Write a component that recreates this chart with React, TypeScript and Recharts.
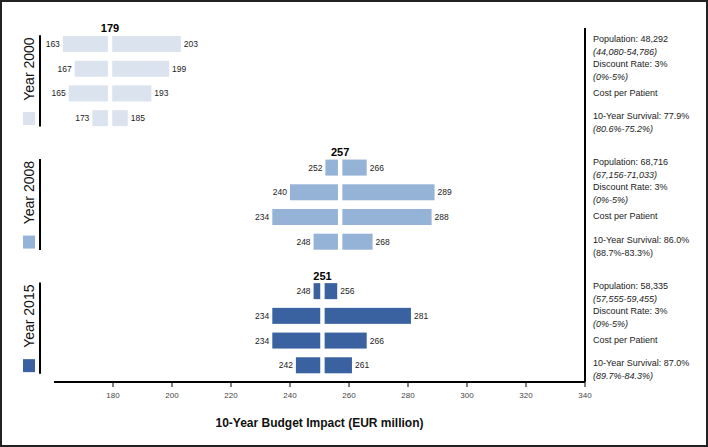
import React from "react";
import {
  BarChart,
  Bar,
  XAxis,
  YAxis,
  Cell,
  LabelList,
  ReferenceDot,
} from "recharts";

const years = ["2000", "2008", "2015"];
const baseCase = [179, 257, 251];
const colors = ["#dbe3ef", "#95b3d7", "#3a62a0"];

const low2000 = [163, 167, 165, 173];
const high2000 = [203, 199, 193, 185];
const low2008 = [252, 240, 234, 248];
const high2008 = [266, 289, 288, 268];
const low2015 = [248, 234, 234, 242];
const high2015 = [256, 281, 266, 261];

const params2000 = ["Population: 48,292", "Discount Rate: 3%", "Cost per Patient", "10-Year Survival: 77.9%"];
const ranges2000 = ["(44,080-54,786)", "(0%-5%)", "", "(80.6%-75.2%)"];
const params2008 = ["Population: 68,716", "Discount Rate: 3%", "Cost per Patient", "10-Year Survival: 86.0%"];
const ranges2008 = ["(67,156-71,033)", "(0%-5%)", "", "(88.7%-83.3%)"];
const params2015 = ["Population: 58,335", "Discount Rate: 3%", "Cost per Patient", "10-Year Survival: 87.0%"];
const ranges2015 = ["(57,555-59,455)", "(0%-5%)", "", "(89.7%-84.3%)"];
const uprightRanges = ["(88.7%-83.3%)"];

const xTicks = [180, 200, 220, 240, 260, 280, 300, 320, 340];

const lows = [low2000, low2008, low2015];
const highs = [high2000, high2008, high2015];
const params = [params2000, params2008, params2015];
const ranges = [ranges2000, ranges2008, ranges2015];

type Row = {
  id: string;
  panel: number;
  pos: number;
  left?: [number, number];
  right?: [number, number];
  low?: number;
  high?: number;
  name?: string;
  range?: string;
};

const rows: Row[] = [];
years.forEach((y, p) => {
  if (p > 0) rows.push({ id: "gap" + p, panel: p, pos: -1 });
  lows[p].forEach((lo, i) => {
    const hi = highs[p][i];
    rows.push({
      id: y + "-" + i,
      panel: p,
      pos: i,
      left: [lo, baseCase[p]],
      right: [baseCase[p], hi],
      low: lo,
      high: hi,
      name: params[p][i],
      range: ranges[p][i],
    });
  });
});

const W = 708;
const H = 447;
const TOP = 28;
const XAXIS_H = 65;
const PAD = 4;
const ROW = (H - TOP - XAXIS_H - 2 * PAD) / rows.length;
const FONT = "'Liberation Sans', Arial, sans-serif";
const GAP = 2.2;
const LINE_SHIFT = [-5.5, -5.5, -1, -2.5];

const LeftTick = (props: any) => {
  const row = rows.find((r) => r.id === props.payload?.value);
  if (!row || row.pos < 0) return null;
  const y = props.y;
  return (
    <g>
      {row.pos === 0 && (
        <line x1={40} x2={40} y1={y - 9} y2={y + 3 * ROW + 8} stroke="#000" strokeWidth={2} />
      )}
      {row.pos === 1 && (
        <text
          x={29.5}
          y={y}
          transform={`rotate(-90, 29.5, ${y})`}
          textAnchor="middle"
          dominantBaseline="central"
          fontSize={14}
          fontFamily={FONT}
          fill="#111"
        >
          {"Year " + years[row.panel]}
        </text>
      )}
      {row.pos === 3 && (
        <rect x={23} y={y - 6.5} width={12} height={13} fill={colors[row.panel]} />
      )}
    </g>
  );
};

const RightTick = (props: any) => {
  const row = rows.find((r) => r.id === props.payload?.value);
  if (!row || row.pos < 0) return null;
  const y = props.y;
  const x = 593;
  if (!row.range) {
    return (
      <text x={x} y={y + LINE_SHIFT[row.pos] + 3} fontSize={9} fontFamily={FONT} fill="#222">
        {row.name}
      </text>
    );
  }
  const s = LINE_SHIFT[row.pos];
  return (
    <g>
      <text x={x} y={y + s + 3} fontSize={9} fontFamily={FONT} fill="#222">
        {row.name}
      </text>
      <text
        x={x}
        y={y + s + 16}
        fontSize={9}
        fontFamily={FONT}
        fill="#222"
        fontStyle={uprightRanges.includes(row.range) ? "normal" : "italic"}
      >
        {row.range}
      </text>
    </g>
  );
};

const LeftHalf = (props: any) => {
  const { x, y, width, height, fill } = props;
  if (![x, y, width, height].every(Number.isFinite) || width <= 0) return null;
  return <rect x={x} y={y} width={Math.max(0, width - GAP)} height={height} fill={fill} />;
};

const RightHalf = (props: any) => {
  const { x, y, width, height, fill } = props;
  if (![x, y, width, height].every(Number.isFinite) || width <= 0) return null;
  return <rect x={x + GAP} y={y} width={Math.max(0, width - GAP)} height={height} fill={fill} />;
};

export default function App() {
  return (
    <div style={{ position: "absolute", left: 0, top: 0, width: W, height: H, background: "#fff", fontFamily: FONT }}>
      <BarChart
        width={W}
        height={H}
        data={rows}
        layout="vertical"
        margin={{ top: TOP, right: 0, bottom: 0, left: 0 }}
        barSize={16}
        barGap={-16}
      >
        <XAxis
          type="number"
          domain={[160, 340]}
          ticks={xTicks}
          allowDataOverflow
          height={XAXIS_H}
          tickSize={5}
          tickMargin={5}
          tick={{ fontSize: 8, fill: "#444", fontFamily: FONT }}
          tickLine={{ stroke: "#000" }}
          axisLine={{ stroke: "#000", strokeWidth: 2 }}
          label={{
            value: "10-Year Budget Impact (EUR million)",
            position: "insideBottom",
            offset: 20,
            fontSize: 12,
            fontWeight: "bold",
            fill: "#111",
            fontFamily: FONT,
          }}
        />
        <YAxis
          yAxisId="left"
          type="category"
          dataKey="id"
          width={54}
          padding={{ top: PAD, bottom: PAD }}
          axisLine={false}
          tickLine={false}
          interval={0}
          tick={<LeftTick />}
        />
        <YAxis
          yAxisId="right"
          orientation="right"
          type="category"
          dataKey="id"
          width={123}
          padding={{ top: PAD, bottom: PAD }}
          axisLine={{ stroke: "#000", strokeWidth: 2 }}
          tickLine={false}
          interval={0}
          tick={<RightTick />}
        />
        <Bar yAxisId="left" dataKey="left" isAnimationActive={false} shape={<LeftHalf />}>
          {rows.map((r) => (
            <Cell key={r.id} fill={colors[r.panel]} />
          ))}
          <LabelList dataKey="low" position="left" offset={3} fontSize={8.5} fill="#222" fontFamily={FONT} />
        </Bar>
        <Bar yAxisId="left" dataKey="right" isAnimationActive={false} shape={<RightHalf />}>
          {rows.map((r) => (
            <Cell key={r.id} fill={colors[r.panel]} />
          ))}
          <LabelList dataKey="high" position="right" offset={3} fontSize={8.5} fill="#222" fontFamily={FONT} />
        </Bar>
        {years.map((y, p) => (
          <ReferenceDot
            key={y}
            yAxisId="left"
            x={baseCase[p]}
            y={y + "-0"}
            r={0}
            fill="none"
            stroke="none"
            label={{
              value: String(baseCase[p]),
              position: "top",
              offset: 12,
              fontSize: 11,
              fontWeight: "bold",
              fill: "#000",
              fontFamily: FONT,
            }}
          />
        ))}
      </BarChart>
      <div
        style={{
          position: "absolute",
          left: 0,
          top: 0,
          width: W,
          height: H,
          boxSizing: "border-box",
          border: "2px solid #222",
          pointerEvents: "none",
        }}
      />
    </div>
  );
}
